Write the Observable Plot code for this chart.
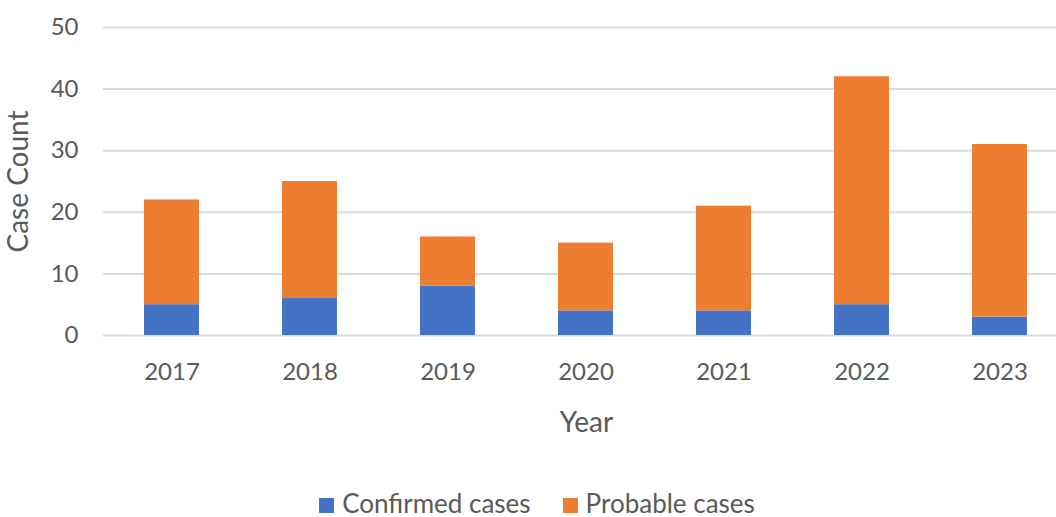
<!DOCTYPE html>
<html>
<head>
<meta charset="utf-8">
<script src="https://cdn.jsdelivr.net/npm/d3@7"></script>
<script src="https://cdn.jsdelivr.net/npm/@observablehq/plot@0.6"></script>
<style>
  html, body { margin: 0; padding: 0; background: #fff; overflow: hidden; }
  #chart svg { display: block; }
  .legend { display: flex; justify-content: center; gap: 32px; font-family: Lato, "Open Sans", sans-serif; font-size: 26px; line-height: 26px; color: #595959; margin-left: 18px; margin-top: 20px; }
  .legend span.sw { display: inline-block; width: 15px; height: 15px; margin-right: 8px; vertical-align: 0px; }
</style>
</head>
<body>
<div id="chart"></div>
<script>
const years = ["2017", "2018", "2019", "2020", "2021", "2022", "2023"];
const confirmed = [5, 6, 8, 4, 4, 5, 3];
const probable = [17, 19, 8, 11, 17, 37, 28];
const seriesNames = ["Confirmed cases", "Probable cases"];
const seriesColors = ["#4472C4", "#ED7D31"];
const yTicks = [0, 10, 20, 30, 40, 50];

const rows = [];
years.forEach((y, i) => {
  rows.push({year: y, series: seriesNames[0], value: confirmed[i]});
  rows.push({year: y, series: seriesNames[1], value: probable[i]});
});

const chart = Plot.plot({
  width: 1056,
  height: 470,
  marginTop: 27,
  marginBottom: 135,
  marginLeft: 103,
  marginRight: -13,
  style: {fontFamily: "Lato, 'Open Sans', sans-serif", fontSize: "24px", color: "#595959", background: "#fff"},
  x: {domain: years, paddingInner: 0.6, paddingOuter: 0.3},
  y: {domain: [0, 50]},
  color: {domain: seriesNames, range: seriesColors},
  marks: [
    Plot.ruleY(yTicks, {stroke: "#d9d9d9", strokeWidth: 2}),
    Plot.barY(rows, Plot.stackY({x: "year", y: "value", fill: "series", order: seriesNames})),
    Plot.axisY(yTicks, {tickSize: 0, tickPadding: 25, label: null, fontSize: 24}),
    Plot.axisY({tickSize: 0, ticks: [], label: "Case Count", labelAnchor: "center", labelOffset: 95, labelArrow: "none", fontSize: 28}),
    Plot.axisX({tickSize: 0, tickPadding: 27, label: null, fontSize: 24}),
    Plot.axisX({tickSize: 0, ticks: [], label: "Year", labelAnchor: "center", labelOffset: 96, labelArrow: "none", fontSize: 28})
  ]
});
document.getElementById("chart").appendChild(chart);

const legend = document.createElement("div");
legend.className = "legend";
seriesNames.forEach((n, i) => {
  const item = document.createElement("div");
  item.innerHTML = `<span class="sw" style="background:${seriesColors[i]}"></span>${n}`;
  legend.appendChild(item);
});
document.body.appendChild(legend);
</script>
</body>
</html>
